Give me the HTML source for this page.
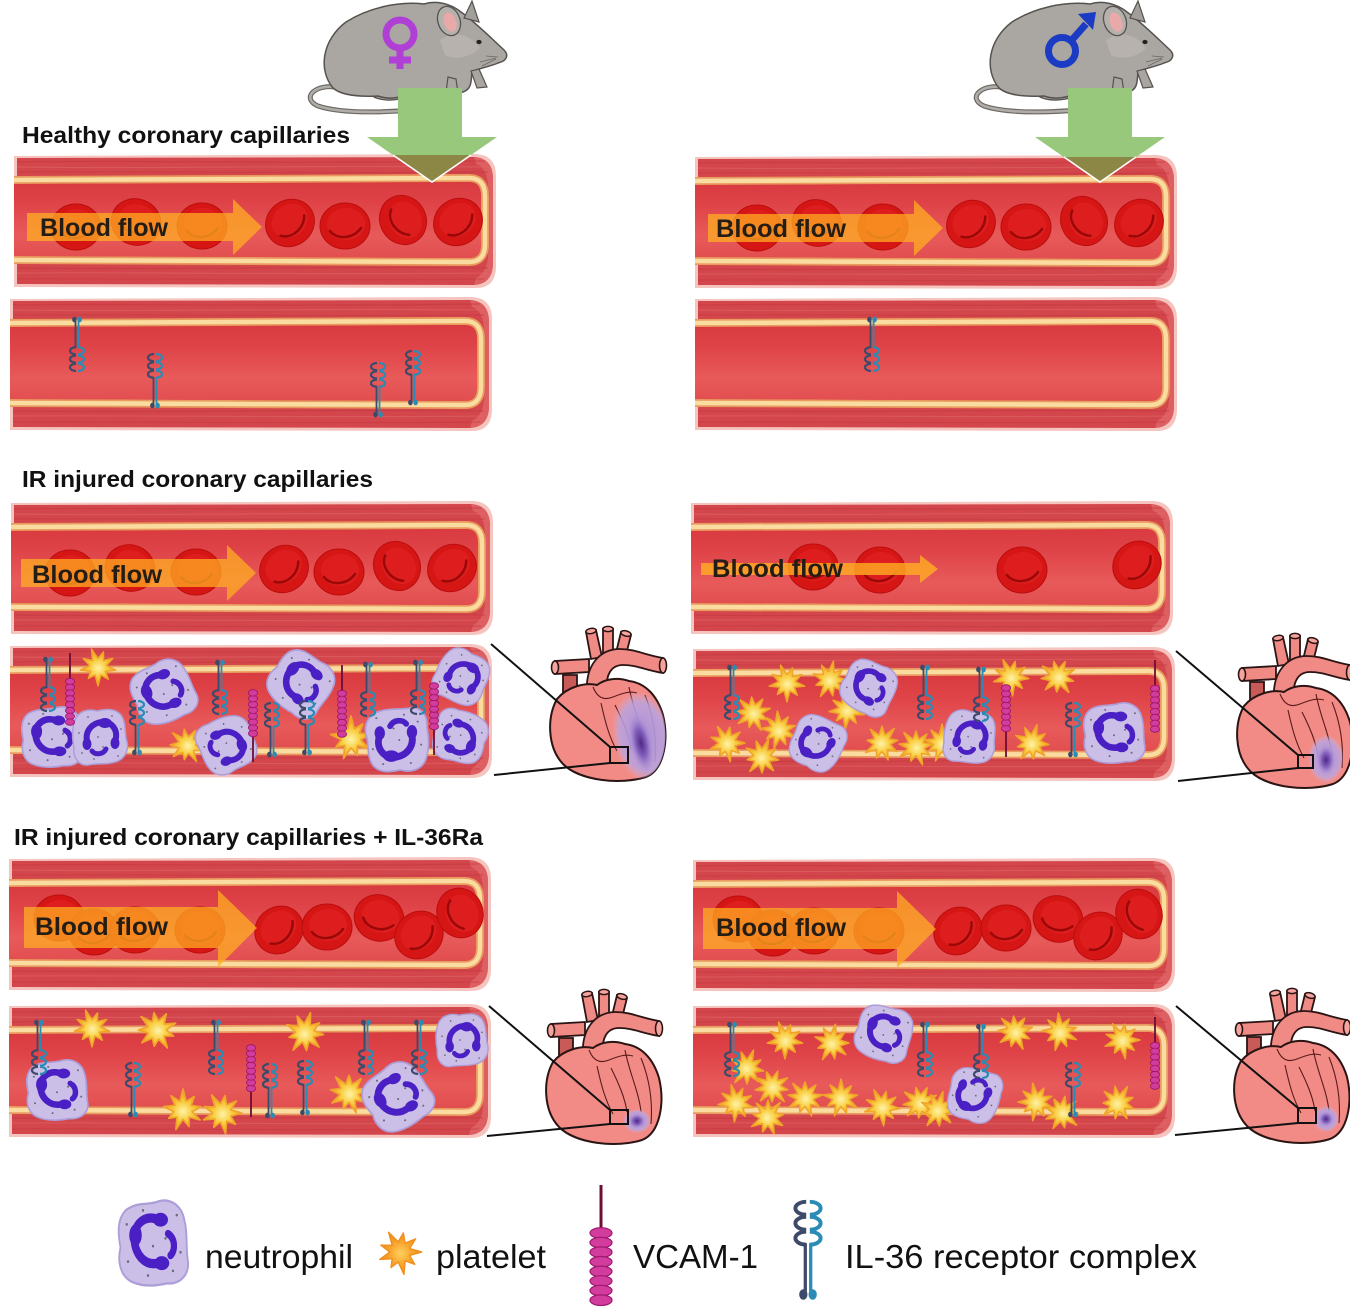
<!DOCTYPE html>
<html><head><meta charset="utf-8"><style>html,body{margin:0;padding:0;background:#fff}svg{display:block}</style></head>
<body>
<svg width="1350" height="1309" viewBox="0 0 1350 1309" xmlns="http://www.w3.org/2000/svg" xmlns:xlink="http://www.w3.org/1999/xlink">
<defs>
<linearGradient id="lum" x1="0" y1="0" x2="0" y2="1">
<stop offset="0" stop-color="#d83a40"/><stop offset=".3" stop-color="#df4448"/><stop offset=".7" stop-color="#e85a5a"/><stop offset="1" stop-color="#e24e50"/>
</linearGradient>
<radialGradient id="plg"><stop offset="0" stop-color="#fff3a8"/><stop offset=".45" stop-color="#f9cf45"/><stop offset="1" stop-color="#efa024"/></radialGradient>
<radialGradient id="plg2"><stop offset="0" stop-color="#ffd060"/><stop offset=".5" stop-color="#f7a830"/><stop offset="1" stop-color="#f08c18"/></radialGradient>
<radialGradient id="inf"><stop offset="0" stop-color="#4a2080" stop-opacity=".95"/><stop offset=".45" stop-color="#7a58b8" stop-opacity=".85"/><stop offset="1" stop-color="#b8a0e0" stop-opacity="0"/></radialGradient>
<radialGradient id="inf2"><stop offset="0" stop-color="#a890dc" stop-opacity=".95"/><stop offset=".75" stop-color="#b8a4e2" stop-opacity=".85"/><stop offset="1" stop-color="#c8b8ea" stop-opacity="0"/></radialGradient>
<clipPath id="hc"><path d="M12,74 C2,92 2,122 18,139 C35,156 76,160 101,152 C119,145 124,115 118,90 C112,70 100,58 84,56 C72,52 60,54 52,60 C40,57 22,62 12,74 Z"/></clipPath>

<g id="ves">
<path d="M0,2 L462,0 Q482,1 482,22 L482,112 Q482,134 462,134 L0,133 Z" fill="#f5c4be"/>
<path d="M3,4 L460,3 Q478,4 479,23 L479,111 Q478,130 460,131 L3,130 Z" fill="#d3464b"/>
<path d="M460,3 Q478,4 479,23 L479,111 Q478,130 460,131 L462,124 Q474,118 474,100 L474,34 Q474,14 462,10 Z" fill="#e26a6c" opacity=".7"/>
<g fill="none" stroke-width="1.2">
<path d="M3,8 C100,6 250,10 470,7" stroke="#bf363d" opacity=".5"/>
<path d="M3,13 C150,15 300,11 474,13" stroke="#e2676b" opacity=".5"/>
<path d="M3,18 C120,17 330,20 474,18" stroke="#bf363d" opacity=".45"/>
<path d="M3,114 C150,116 300,112 474,114" stroke="#bf363d" opacity=".5"/>
<path d="M3,119 C120,118 330,121 474,119" stroke="#e2676b" opacity=".5"/>
<path d="M3,125 C100,124 250,127 470,125" stroke="#bf363d" opacity=".45"/>
</g>
<path d="M0,26 L455,24 Q471,24 471,42 L471,90 Q471,108 455,108 L0,106" fill="none" stroke="#e99a5e" stroke-width="8"/>
<path d="M0,26 L455,24 Q471,24 471,42 L471,90 Q471,108 455,108 L0,106" fill="none" stroke="#fadca0" stroke-width="4.5"/>
<path d="M0,30 L455,28 Q467,28 467,43 L467,89 Q467,104 455,104 L0,102 Z" fill="url(#lum)"/>
</g>

<g id="rbc">
<ellipse rx="25" ry="23" fill="#d61515" stroke="#bb0d0d" stroke-width="1"/>
<ellipse cx="1" cy="-2" rx="19" ry="16" fill="#e52626" opacity=".55"/>
<path d="M-15,5 C-8,14 8,13 16,2" stroke="#9a0808" stroke-width="2.5" fill="none" stroke-linecap="round"/>
</g>

<g id="rec">
<path d="M-1.5,24 V51" stroke="#3e4a6a" stroke-width="1.8"/>
<path d="M1.5,24 V51" stroke="#2a8cb4" stroke-width="1.8"/>
<path d="M-1,1 A6,3.6 0 1 0 -1,8.2 M-1,9.3 A6,3.6 0 1 0 -1,16.5 M-1,17.6 A6,3.6 0 1 0 -1,24.8" stroke="#3e4a6a" stroke-width="2.2" fill="none"/>
<path d="M1,1 A6,3.6 0 1 1 1,8.2 M1,9.3 A6,3.6 0 1 1 1,16.5 M1,17.6 A6,3.6 0 1 1 1,24.8" stroke="#2a8cb4" stroke-width="2.2" fill="none"/>
<ellipse cx="-2.6" cy="52.5" rx="2.3" ry="2.9" fill="#3e4a6a"/>
<ellipse cx="2.6" cy="52.5" rx="2.3" ry="2.9" fill="#2a8cb4"/>
</g>

<g id="vcam">
<line x1="0" y1="0" x2="0" y2="27" stroke="#6e0c34" stroke-width="1.8"/>
<g fill="#d23c9c" stroke="#98166c" stroke-width=".8">
<ellipse cy="28.5" rx="4.6" ry="3.2"/><ellipse cy="34.3" rx="4.6" ry="3.2"/><ellipse cy="40.1" rx="4.6" ry="3.2"/><ellipse cy="45.9" rx="4.6" ry="3.2"/>
<ellipse cy="51.7" rx="4.6" ry="3.2"/><ellipse cy="57.5" rx="4.6" ry="3.2"/><ellipse cy="63.3" rx="4.6" ry="3.2"/><ellipse cy="69.1" rx="4.6" ry="3.2"/>
</g>
</g>

<g id="neu">
<path d="M-22,-21 C-13,-27 -3,-24 5,-27 C14,-29 23,-24 25,-15 C28,-6 26,3 28,12 C29,21 21,27 11,26 C1,28 -9,28 -17,25 C-25,22 -29,13 -26,3 C-28,-6 -29,-15 -22,-21 Z" fill="#cbbfe8" stroke="#ad9dd8" stroke-width="1.5"/>
<path d="M4,-15 C-6,-19 -16,-12 -15,-2 C-14,8 -6,15 4,13" stroke="#4a20c4" stroke-width="6" fill="none" stroke-linecap="round"/>
<ellipse cx="6" cy="-15" rx="6" ry="4.5" fill="#4a20c4"/>
<ellipse cx="-14" cy="-5" rx="5" ry="7" fill="#4a20c4"/>
<ellipse cx="7" cy="13" rx="6" ry="4.5" fill="#4a20c4"/>
<path d="M12,-6 C18,-3 18,5 14,8" stroke="#4a20c4" stroke-width="5" fill="none" stroke-linecap="round"/>
<g fill="#6a6a7a"><circle cx="-8" cy="-21" r=".9"/><circle cx="10" cy="-3" r=".9"/><circle cx="-20" cy="12" r=".9"/><circle cx="16" cy="18" r=".9"/><circle cx="-4" cy="21" r=".9"/><circle cx="19" cy="-18" r=".9"/><circle cx="0" cy="2" r=".9"/><circle cx="-21" cy="-12" r=".9"/><circle cx="22" cy="6" r=".9"/></g>
</g>

<g id="plt">
<polygon points="18,0 8,2.9 12.3,10.3 4.25,7.4 3.3,18.7 -1.5,8.4 -7.5,13 -6.5,5.5 -16.9,6.2 -8.5,0 -16,-5.8 -6.5,-5.5 -9.5,-16.5 -1.5,-8.4 2.8,-15.8 4.25,-7.4 13,-10.9 8,-2.9" fill="url(#plg)" stroke="#f0a428" stroke-width="1.5" stroke-linejoin="round"/>
</g>

<g id="heart">
<path d="M44,34 L10,36 L10,49 L44,47 Z" fill="#f08a84" stroke="#2b1414" stroke-width="1.8"/>
<ellipse cx="10" cy="42.5" rx="3.5" ry="6.5" fill="#f5a39d" stroke="#2b1414" stroke-width="1.6"/>
<path d="M18,50 L18,92 L32,92 L32,50 Z" fill="#c85a58" stroke="#2b1414" stroke-width="1.8"/>
<path d="M46,34 L41,7 L51,5 L57,32 Z" fill="#f08a84" stroke="#2b1414" stroke-width="1.8"/>
<ellipse cx="46" cy="6" rx="5.2" ry="2.6" transform="rotate(-10 46 6)" fill="#f5a39d" stroke="#2b1414" stroke-width="1.5"/>
<path d="M58,32 L58,4 L68,4 L68,32 Z" fill="#f08a84" stroke="#2b1414" stroke-width="1.8"/>
<ellipse cx="63" cy="4" rx="5.2" ry="2.6" fill="#f5a39d" stroke="#2b1414" stroke-width="1.5"/>
<path d="M70,32 L76,7 L86,10 L80,34 Z" fill="#f08a84" stroke="#2b1414" stroke-width="1.8"/>
<ellipse cx="81" cy="8.5" rx="5.2" ry="2.6" transform="rotate(15 81 8.5)" fill="#f5a39d" stroke="#2b1414" stroke-width="1.5"/>
<path d="M42,68 C40,40 55,24 75,24 C90,24 100,30 118,33 L118,48 C100,45 92,40 78,40 C66,40 60,50 62,68 Z" fill="#f08a84" stroke="#2b1414" stroke-width="1.8"/>
<ellipse cx="118" cy="40.5" rx="3.5" ry="7.5" fill="#f5a39d" stroke="#2b1414" stroke-width="1.6"/>
<path d="M12,74 C2,92 2,122 18,139 C35,156 76,160 101,152 C119,145 124,115 118,90 C112,70 100,58 84,56 C72,52 60,54 52,60 C40,57 22,62 12,74 Z" fill="#f28b85" stroke="#2b1414" stroke-width="2"/>
<g fill="none" stroke="#5a1c1c" stroke-width="1.1">
<path d="M48,62 C52,72 58,76 68,72 C78,68 84,66 92,68"/>
<path d="M56,78 C60,96 64,112 72,126"/>
<path d="M84,62 C88,84 98,104 100,124"/>
<path d="M70,80 C78,96 84,110 86,124"/>
<path d="M100,70 C108,90 112,112 110,136"/>
</g>
</g>

<g id="mouse">
<path d="M340,88 C316,82 300,98 318,106 C345,115 405,113 446,105" fill="none" stroke="#6d6965" stroke-width="5" stroke-linecap="round"/>
<path d="M340,88 C316,82 300,98 318,106 C345,115 405,113 446,105" fill="none" stroke="#b0aca8" stroke-width="2.6" stroke-linecap="round"/>
<path d="M370,86 C364,98 384,102 400,99 C408,97 407,90 400,87 Z" fill="#a9a5a1" stroke="#55524f" stroke-width="1.3"/>
<path d="M333,88 C318,70 322,40 346,22 C368,8 398,1 424,4 C437,0 451,4 461,12 C475,22 489,36 504,50 C509,55 507,61 498,63 C489,67 479,68 472,72 C471,81 472,89 463,92 C455,94 447,91 442,89 L412,91 C404,98 389,100 378,96 C358,97 341,95 333,88 Z" fill="#aaa6a2" stroke="#55524f" stroke-width="1.5"/>
<path d="M440,40 C455,30 470,34 480,48 C470,58 455,60 445,55 Z" fill="#bcb8b4" opacity=".7"/>
<path d="M464,18 L472,1 L479,22 Z" fill="#a29e9a" stroke="#55524f" stroke-width="1.2"/>
<ellipse cx="449" cy="21" rx="11" ry="15" transform="rotate(-20 449 21)" fill="#b5b1ad" stroke="#55524f" stroke-width="1.3"/>
<ellipse cx="450" cy="22" rx="6" ry="10" transform="rotate(-20 450 22)" fill="#eaa9a9"/>
<ellipse cx="479" cy="42" rx="2.6" ry="2.1" fill="#222"/>
<path d="M448,77 L446,92 L458,93 L456,79 Z" fill="#a9a5a1" stroke="#55524f" stroke-width="1.2"/>
<path d="M471,71 L477,88 L487,87 L479,69 Z" fill="#a9a5a1" stroke="#55524f" stroke-width="1.2"/>
<g stroke="#6a6662" stroke-width=".8" fill="none"><path d="M496,58 L480,62"/><path d="M496,59 L482,66"/><path d="M498,57 L486,56"/></g>
</g>
</defs>

<rect width="1350" height="1309" fill="#fff"/>

<!-- mice -->
<use href="#mouse"/>
<g fill="none" stroke="#b03fd6" stroke-width="7">
<circle cx="400" cy="34" r="14"/>
<line x1="400" y1="48" x2="400" y2="69"/>
<line x1="389" y1="60" x2="411" y2="60"/>
</g>
<use href="#mouse" transform="translate(666,0)"/>
<g fill="none" stroke="#1b3bc4" stroke-width="7">
<circle cx="1062" cy="51" r="13.5"/>
<line x1="1071" y1="41" x2="1086" y2="24"/>
</g>
<polygon points="1078,14 1096,12 1093,30" fill="#1b3bc4"/>

<!-- headers -->
<g font-family="'Liberation Sans', Arial, sans-serif" font-weight="bold" fill="#111">
<text x="22" y="143" font-size="23" textLength="328" lengthAdjust="spacingAndGlyphs">Healthy coronary capillaries</text>
<text x="22" y="487" font-size="23" textLength="351" lengthAdjust="spacingAndGlyphs">IR injured coronary capillaries</text>
<text x="14" y="845" font-size="23" textLength="469" lengthAdjust="spacingAndGlyphs">IR injured coronary capillaries + IL-36Ra</text>
</g>

<!-- vessels -->
<use href="#ves" transform="translate(14,154)"/>
<use href="#ves" transform="translate(10,297)"/>
<use href="#ves" transform="translate(11,501)"/>
<use href="#ves" transform="translate(10,644)"/>
<use href="#ves" transform="translate(9,857)"/>
<use href="#ves" transform="translate(9,1004)"/>
<use href="#ves" transform="translate(695,155)"/>
<use href="#ves" transform="translate(695,297)"/>
<use href="#ves" transform="translate(691,501)"/>
<use href="#ves" transform="translate(693,647)"/>
<use href="#ves" transform="translate(693,858)"/>
<use href="#ves" transform="translate(693,1004)"/>

<defs>
<g id="bf1">
<use href="#rbc" transform="translate(76,227)"/>
<use href="#rbc" transform="translate(136,222) rotate(20)"/>
<use href="#rbc" transform="translate(202,226)"/>
<use href="#rbc" transform="translate(290,223) rotate(-35)"/>
<use href="#rbc" transform="translate(345,226)"/>
<use href="#rbc" transform="translate(403,220) rotate(60)"/>
<use href="#rbc" transform="translate(458,222) rotate(-35)"/>
<polygon points="27,213 233,213 233,199 262,227 233,255 233,241 27,241" fill="#ffae22" opacity=".74"/>
</g>
<g id="bf5">
<use href="#rbc" transform="translate(59,918)"/>
<use href="#rbc" transform="translate(94,932)"/>
<use href="#rbc" transform="translate(135,930)"/>
<use href="#rbc" transform="translate(200,930)"/>
<use href="#rbc" transform="translate(279,930) rotate(-40)"/>
<use href="#rbc" transform="translate(327,927)"/>
<use href="#rbc" transform="translate(379,918) rotate(20)"/>
<use href="#rbc" transform="translate(419,935) rotate(-40)"/>
<use href="#rbc" transform="translate(460,913) rotate(70)"/>
<polygon points="24,907 218,907 218,890 257,928 218,967 218,948 24,948" fill="#ffae22" opacity=".74"/>
</g>
</defs>
<use href="#bf1"/>
<use href="#bf1" transform="translate(681,1)"/>
<use href="#bf1" transform="translate(-6,346)"/>
<use href="#bf5"/>
<use href="#bf5" transform="translate(679,1)"/>

<!-- V3R -->
<use href="#rbc" transform="translate(813,567)"/>
<use href="#rbc" transform="translate(880,570)"/>
<use href="#rbc" transform="translate(1022,570)"/>
<use href="#rbc" transform="translate(1137,565) rotate(-40)"/>
<polygon points="701,563 920,563 920,555 938,569 920,583 920,575 701,575" fill="#ffae22" opacity=".8"/>

<g font-family="'Liberation Sans', Arial, sans-serif" font-weight="bold" fill="#231d16" font-size="25">
<text x="40" y="236" textLength="128" lengthAdjust="spacingAndGlyphs">Blood flow</text>
<text x="716" y="237" textLength="130" lengthAdjust="spacingAndGlyphs">Blood flow</text>
<text x="32" y="583" textLength="130" lengthAdjust="spacingAndGlyphs">Blood flow</text>
<text x="712" y="577" textLength="131" lengthAdjust="spacingAndGlyphs">Blood flow</text>
<text x="35" y="935" textLength="133" lengthAdjust="spacingAndGlyphs">Blood flow</text>
<text x="716" y="936" textLength="130" lengthAdjust="spacingAndGlyphs">Blood flow</text>
</g>

<!-- green arrows -->
<polygon points="398,88 462,88 462,137 497,137 432,182 367,137 398,137" fill="#97c87b"/>
<polygon points="393,155 471,155 432,182" fill="#8c8744"/>
<polyline points="393,155 432,182 471,155" fill="none" stroke="#fff" stroke-width="1.6"/>
<polygon points="1068,88 1132,88 1132,137 1165,137 1100,182 1035,137 1068,137" fill="#97c87b"/>
<polygon points="1064,157 1136,157 1100,182" fill="#8c8744"/>
<polyline points="1064,157 1100,182 1136,157" fill="none" stroke="#fff" stroke-width="1.6"/>

<!-- V2 receptors -->
<use href="#rec" transform="translate(77,372) scale(1,-1)"/>
<use href="#rec" transform="translate(155,353)"/>
<use href="#rec" transform="translate(378,362)"/>
<use href="#rec" transform="translate(413,350)"/>
<use href="#rec" transform="translate(872,372) scale(1,-1)"/>

<!-- V4L -->
<use href="#plt" transform="translate(98,667) rotate(10)"/>
<use href="#plt" transform="translate(187,745) rotate(-20)"/>
<use href="#plt" transform="translate(351,738) scale(1.15) rotate(30)"/>
<use href="#neu" transform="translate(52,737) scale(1.1)"/>
<use href="#neu" transform="translate(100,737) rotate(90)"/>
<use href="#neu" transform="translate(163,692) scale(1.1) rotate(-20)"/>
<use href="#neu" transform="translate(227,745) rotate(160)"/>
<use href="#neu" transform="translate(301,683) scale(1.1) rotate(40)"/>
<use href="#neu" transform="translate(397,740) scale(1.15) rotate(-90)"/>
<use href="#neu" transform="translate(462,677) scale(.95) rotate(120)"/>
<use href="#neu" transform="translate(460,737) scale(.95) rotate(200)"/>
<use href="#rec" transform="translate(48,712) scale(1,-1)"/>
<use href="#rec" transform="translate(220,715) scale(1,-1)"/>
<use href="#rec" transform="translate(368,717) scale(1,-1)"/>
<use href="#rec" transform="translate(418,715) scale(1,-1)"/>
<use href="#rec" transform="translate(137,700)"/>
<use href="#rec" transform="translate(272,702)"/>
<use href="#rec" transform="translate(307,700)"/>
<use href="#vcam" transform="translate(70,653)"/>
<use href="#vcam" transform="translate(342,665)"/>
<use href="#vcam" transform="translate(253,762) scale(1,-1)"/>
<use href="#vcam" transform="translate(434,755) scale(1,-1)"/>

<!-- V4R -->
<use href="#plt" transform="translate(787,683) rotate(10)"/>
<use href="#plt" transform="translate(830,680) rotate(40)"/>
<use href="#plt" transform="translate(753,713) rotate(-15)"/>
<use href="#plt" transform="translate(779,730) rotate(25)"/>
<use href="#plt" transform="translate(727,743)"/>
<use href="#plt" transform="translate(762,757) rotate(50)"/>
<use href="#plt" transform="translate(809,747) rotate(-30)"/>
<use href="#plt" transform="translate(847,710) rotate(15)"/>
<use href="#plt" transform="translate(882,743) rotate(70)"/>
<use href="#plt" transform="translate(916,747) rotate(-10)"/>
<use href="#plt" transform="translate(942,743) rotate(30)"/>
<use href="#plt" transform="translate(1011,677) rotate(5)"/>
<use href="#plt" transform="translate(1058,677) rotate(-25)"/>
<use href="#plt" transform="translate(1032,743) rotate(45)"/>
<use href="#neu" transform="translate(869,687) scale(.95) rotate(30)"/>
<use href="#neu" transform="translate(817,743) scale(.95) rotate(-60)"/>
<use href="#neu" transform="translate(970,737) scale(.95) rotate(100)"/>
<use href="#neu" transform="translate(1114,733) scale(1.1)"/>
<use href="#rec" transform="translate(732,720) scale(1,-1)"/>
<use href="#rec" transform="translate(925,720) scale(1,-1)"/>
<use href="#rec" transform="translate(981,722) scale(1,-1)"/>
<use href="#rec" transform="translate(1073,702)"/>
<use href="#vcam" transform="translate(1006,757) scale(1,-1)"/>
<use href="#vcam" transform="translate(1155,660)"/>

<!-- V6L -->
<use href="#plt" transform="translate(92,1028) rotate(10)"/>
<use href="#plt" transform="translate(157,1030) scale(1.1) rotate(-20)"/>
<use href="#plt" transform="translate(183,1110) scale(1.1) rotate(30)"/>
<use href="#plt" transform="translate(222,1113) scale(1.1)"/>
<use href="#plt" transform="translate(305,1033) scale(1.1) rotate(45)"/>
<use href="#plt" transform="translate(349,1093) scale(1.1) rotate(-10)"/>
<use href="#neu" transform="translate(57,1090) scale(1.1)"/>
<use href="#neu" transform="translate(397,1097) scale(1.15) rotate(-30)"/>
<use href="#neu" transform="translate(462,1040) scale(.95) rotate(90)"/>
<use href="#rec" transform="translate(39,1075) scale(1,-1)"/>
<use href="#rec" transform="translate(216,1075) scale(1,-1)"/>
<use href="#rec" transform="translate(366,1075) scale(1,-1)"/>
<use href="#rec" transform="translate(419,1075) scale(1,-1)"/>
<use href="#rec" transform="translate(133,1062)"/>
<use href="#rec" transform="translate(270,1063)"/>
<use href="#rec" transform="translate(305,1060)"/>
<use href="#vcam" transform="translate(251,1117) scale(1,-1)"/>

<!-- V6R -->
<use href="#plt" transform="translate(785,1040) rotate(10)"/>
<use href="#plt" transform="translate(832,1043) rotate(40)"/>
<use href="#plt" transform="translate(1015,1032) rotate(-15)"/>
<use href="#plt" transform="translate(1060,1032) rotate(25)"/>
<use href="#plt" transform="translate(1122,1040)"/>
<use href="#plt" transform="translate(747,1068) rotate(50)"/>
<use href="#plt" transform="translate(772,1087) rotate(-30)"/>
<use href="#plt" transform="translate(736,1103) rotate(15)"/>
<use href="#plt" transform="translate(768,1117) rotate(70)"/>
<use href="#plt" transform="translate(805,1098) rotate(-10)"/>
<use href="#plt" transform="translate(841,1098) rotate(30)"/>
<use href="#plt" transform="translate(882,1107) rotate(5)"/>
<use href="#plt" transform="translate(920,1103) rotate(-25)"/>
<use href="#plt" transform="translate(938,1110) rotate(45)"/>
<use href="#plt" transform="translate(1036,1102) rotate(20)"/>
<use href="#plt" transform="translate(1062,1113) rotate(-40)"/>
<use href="#plt" transform="translate(1118,1103) rotate(60)"/>
<use href="#neu" transform="translate(884,1033) rotate(20)"/>
<use href="#neu" transform="translate(974,1095) scale(.95) rotate(-70)"/>
<use href="#rec" transform="translate(732,1077) scale(1,-1)"/>
<use href="#rec" transform="translate(925,1077) scale(1,-1)"/>
<use href="#rec" transform="translate(981,1079) scale(1,-1)"/>
<use href="#rec" transform="translate(1073,1062)"/>
<use href="#vcam" transform="translate(1155,1017)"/>

<!-- hearts -->
<g transform="translate(545,625)"><use href="#heart"/><g clip-path="url(#hc)"><ellipse cx="98" cy="112" rx="30" ry="46" transform="rotate(-12 98 112)" fill="url(#inf2)"/><ellipse cx="96" cy="118" rx="12" ry="32" transform="rotate(-12 96 118)" fill="url(#inf)"/></g><rect x="65" y="122" width="18" height="16" fill="none" stroke="#111" stroke-width="2"/></g>
<g transform="translate(1232,632)"><use href="#heart"/><g clip-path="url(#hc)"><ellipse cx="94" cy="127" rx="18" ry="24" fill="url(#inf2)"/><ellipse cx="94" cy="128" rx="10" ry="16" fill="url(#inf)"/></g><rect x="66" y="123" width="15" height="13" fill="none" stroke="#111" stroke-width="2"/></g>
<g transform="translate(541,988)"><use href="#heart"/><g clip-path="url(#hc)"><ellipse cx="96" cy="133" rx="14" ry="12" fill="url(#inf2)"/><ellipse cx="96" cy="133" rx="9" ry="8" fill="url(#inf)"/></g><rect x="69" y="122" width="18" height="14" fill="none" stroke="#111" stroke-width="2"/></g>
<g transform="translate(1229,987)"><use href="#heart"/><g clip-path="url(#hc)"><ellipse cx="97" cy="132" rx="13" ry="13" fill="url(#inf2)"/><ellipse cx="97" cy="132" rx="8" ry="8" fill="url(#inf)"/></g><rect x="69" y="121" width="18" height="15" fill="none" stroke="#111" stroke-width="2"/></g>

<g stroke="#111" stroke-width="2">
<line x1="491" y1="644" x2="610" y2="747"/>
<line x1="494" y1="775" x2="610" y2="763"/>
<line x1="1176" y1="651" x2="1298" y2="755"/>
<line x1="1178" y1="781" x2="1298" y2="768"/>
<line x1="489" y1="1006" x2="610" y2="1110"/>
<line x1="487" y1="1136" x2="610" y2="1124"/>
<line x1="1176" y1="1006" x2="1298" y2="1108"/>
<line x1="1175" y1="1135" x2="1298" y2="1123"/>
</g>

<!-- legend -->
<use href="#neu" transform="translate(153,1243) scale(1.25,1.55)"/>
<g transform="translate(400,1252) scale(1.2)">
<polygon points="18,0 8,2.9 12.3,10.3 4.25,7.4 3.3,18.7 -1.5,8.4 -7.5,13 -6.5,5.5 -16.9,6.2 -8.5,0 -16,-5.8 -6.5,-5.5 -9.5,-16.5 -1.5,-8.4 2.8,-15.8 4.25,-7.4 13,-10.9 8,-2.9" fill="url(#plg2)" stroke="#f09020" stroke-width="1.2" stroke-linejoin="round"/>
</g>
<line x1="601" y1="1185" x2="601" y2="1230" stroke="#6e0c34" stroke-width="3"/>
<g fill="#d23c9c" stroke="#a01870" stroke-width="1.2">
<ellipse cx="601" cy="1233" rx="11" ry="5.3"/><ellipse cx="601" cy="1242.6" rx="11" ry="5.3"/><ellipse cx="601" cy="1252.2" rx="11" ry="5.3"/><ellipse cx="601" cy="1261.8" rx="11" ry="5.3"/>
<ellipse cx="601" cy="1271.4" rx="11" ry="5.3"/><ellipse cx="601" cy="1281" rx="11" ry="5.3"/><ellipse cx="601" cy="1290.6" rx="11" ry="5.3"/><ellipse cx="601" cy="1300.2" rx="11" ry="5.3"/>
</g>
<use href="#rec" transform="translate(808,1200) scale(1.8)"/>

<g font-family="'Liberation Sans', Arial, sans-serif" font-size="33" fill="#111">
<text x="205" y="1268" textLength="148" lengthAdjust="spacingAndGlyphs">neutrophil</text>
<text x="436" y="1268" textLength="110" lengthAdjust="spacingAndGlyphs">platelet</text>
<text x="633" y="1268" textLength="125" lengthAdjust="spacingAndGlyphs">VCAM-1</text>
<text x="845" y="1268" textLength="352" lengthAdjust="spacingAndGlyphs">IL-36 receptor complex</text>
</g>
</svg>
</body></html>
